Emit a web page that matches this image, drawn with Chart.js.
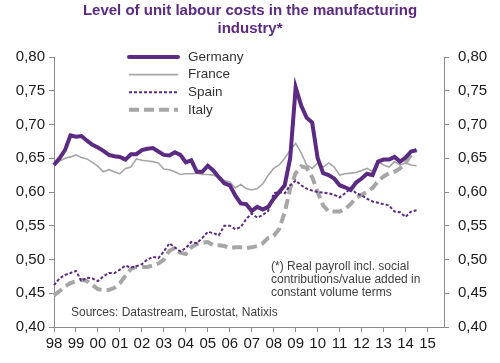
<!DOCTYPE html>
<html>
<head>
<meta charset="utf-8">
<script src="https://cdn.jsdelivr.net/npm/chart.js@4/dist/chart.umd.min.js"></script>
<style>
  html, body { margin: 0; padding: 0; background: #fff; }
</style>
</head>
<body>
<canvas id="myChart" width="500" height="363"></canvas>
<script>
// quarterly data, 1998Q1 .. 2014Q3
const germany = [
  0.640, 0.650, 0.662, 0.684, 0.682, 0.683, 0.676, 0.670,
  0.666, 0.661, 0.655, 0.653, 0.652, 0.648, 0.656, 0.656,
  0.662, 0.664, 0.665, 0.660, 0.655, 0.654, 0.659, 0.655,
  0.644, 0.647, 0.630, 0.630, 0.639, 0.632, 0.622, 0.613,
  0.610, 0.595, 0.583, 0.582, 0.572, 0.578, 0.574, 0.578,
  0.590, 0.600, 0.610, 0.650, 0.755, 0.728, 0.710, 0.703,
  0.650, 0.628, 0.625, 0.620, 0.610, 0.607, 0.603, 0.614,
  0.620, 0.627, 0.625, 0.645, 0.648, 0.648, 0.652, 0.645,
  0.651, 0.660, 0.662
];
const france = [
  0.643, 0.646, 0.650, 0.652, 0.655, 0.651, 0.649, 0.644,
  0.638, 0.630, 0.633, 0.630, 0.627, 0.635, 0.637, 0.649,
  0.647, 0.646, 0.645, 0.643, 0.634, 0.633, 0.630, 0.626,
  0.627, 0.627, 0.628, 0.626, 0.626, 0.625, 0.622, 0.617,
  0.615, 0.606, 0.611, 0.605, 0.603, 0.605, 0.612, 0.625,
  0.635, 0.640, 0.650, 0.662, 0.672, 0.658, 0.640, 0.635,
  0.643, 0.637, 0.643, 0.637, 0.625, 0.627, 0.628, 0.629,
  0.632, 0.635, 0.630, 0.645, 0.640, 0.637, 0.645, 0.640,
  0.643, 0.640, 0.639
];
const spain = [
  0.462, 0.472, 0.477, 0.480, 0.483, 0.468, 0.473, 0.472,
  0.468, 0.475, 0.480, 0.480, 0.485, 0.491, 0.488, 0.490,
  0.493, 0.500, 0.504, 0.502, 0.512, 0.524, 0.518, 0.512,
  0.517, 0.526, 0.524, 0.532, 0.541, 0.539, 0.536, 0.550,
  0.550, 0.545, 0.548, 0.560, 0.568, 0.562, 0.566, 0.572,
  0.598, 0.600, 0.598, 0.610, 0.617, 0.610, 0.605, 0.602,
  0.600, 0.599, 0.598, 0.596, 0.592, 0.598, 0.606, 0.598,
  0.595, 0.590, 0.586, 0.584, 0.582, 0.580, 0.571, 0.570,
  0.563, 0.571, 0.573
];
const italy = [
  0.447, 0.453, 0.460, 0.465, 0.468, 0.470, 0.468, 0.462,
  0.456, 0.455, 0.455, 0.458, 0.465, 0.476, 0.486, 0.489,
  0.489, 0.489, 0.491, 0.494, 0.500, 0.513, 0.517, 0.510,
  0.508, 0.518, 0.523, 0.525, 0.526, 0.521, 0.521, 0.520,
  0.517, 0.518, 0.518, 0.517, 0.518, 0.520, 0.524, 0.532,
  0.535, 0.545, 0.570, 0.605, 0.628, 0.638, 0.636, 0.622,
  0.600, 0.580, 0.571, 0.571, 0.571, 0.575, 0.582, 0.591,
  0.596, 0.600, 0.606, 0.616, 0.623, 0.628, 0.630, 0.635,
  0.643, 0.655, 0.663
];
const series_names = ["Germany", "France", "Spain", "Italy"];
const first_year = 1998;
const last_year = 2015;
const title_lines = ["Level of unit labour costs in the manufacturing", "industry*"];
const note_lines = ["(*) Real payroll incl. social", "contributions/value added in", "constant volume terms"];
const source_text = "Sources: Datastream, Eurostat, Natixis";

// one category per quarter, axis runs to the end of 2015
const quarters = [];
for (let y = first_year; y <= last_year; y++) {
  for (let q = 1; q <= 4; q++) quarters.push(y + "Q" + q);
}

const purple = "#5b2a82";
const grey = "#a6a6a6";
const axis_color = "#8a8a8a";
const font_family = "'Liberation Sans', Arial, sans-serif";

const fmt = (v) => v.toFixed(2).replace(".", ",");

const inner_legend = {
  id: "inner_legend",
  afterDraw(chart) {
    const ctx = chart.ctx;
    ctx.save();
    chart.data.datasets.forEach((ds, i) => {
      const y = 57 + i * 17.6;
      ctx.beginPath();
      ctx.strokeStyle = ds.borderColor;
      ctx.lineWidth = ds.borderWidth;
      ctx.lineCap = i == 0 ? "round" : "butt";
      ctx.setLineDash(ds.borderDash || []);
      ctx.moveTo(129, y);
      ctx.lineTo(178, y);
      ctx.stroke();
      ctx.setLineDash([]);
      ctx.fillStyle = "#333";
      ctx.font = "13.5px " + font_family;
      ctx.textBaseline = "middle";
      ctx.textAlign = "left";
      ctx.fillText(ds.label, 188, y);
    });
    ctx.fillStyle = "#404040";
    ctx.font = "12px " + font_family;
    note_lines.forEach((t, i) => ctx.fillText(t, 271, 267 + i * 12.6));
    ctx.fillText(source_text, 71, 313);
    ctx.restore();
  },
};

const ctx = document.getElementById("myChart").getContext("2d");
const myChart = new Chart(ctx, {
  type: "line",
  data: {
    labels: quarters,
    datasets: [
      {
        label: series_names[0],
        data: germany,
        borderColor: purple,
        borderWidth: 4,
      },
      {
        label: series_names[1],
        data: france,
        borderColor: grey,
        borderWidth: 1.6,
      },
      {
        label: series_names[2],
        data: spain,
        borderColor: purple,
        borderWidth: 2,
        borderDash: [3, 2],
      },
      {
        label: series_names[3],
        data: italy,
        borderColor: grey,
        borderWidth: 4,
        borderDash: [10, 5],
      },
    ],
  },
  options: {
    responsive: false,
    animation: false,
    maintainAspectRatio: false,
    layout: { padding: 0 },
    elements: {
      point: { radius: 0 },
      line: { tension: 0, fill: false },
    },
    plugins: {
      legend: { display: false },
      tooltip: { enabled: false },
      title: {
        display: true,
        text: title_lines,
        color: purple,
        font: { family: font_family, size: 15, weight: "bold", lineHeight: 1.2 },
        padding: { top: 2, bottom: 19 },
      },
    },
    scales: {
      x: {
        offset: false,
        afterBuildTicks: (scale) => {
          scale.ticks = scale.ticks.filter((t) => t.value % 4 == 0);
        },
        afterFit: (scale) => { scale.height = 36; },
        border: { color: axis_color, width: 1 },
        grid: { drawOnChartArea: false, drawTicks: true, tickLength: 5, color: axis_color },
        ticks: {
          autoSkip: false,
          maxRotation: 0,
          padding: 3,
          color: "#1a1a1a",
          font: { family: font_family, size: 15 },
          callback: function (value) {
            return this.getLabelForValue(value).slice(2, 4);
          },
        },
      },
      y: {
        position: "left",
        min: 0.4,
        max: 0.8,
        afterFit: (scale) => { scale.width = 54; },
        border: { color: axis_color, width: 1 },
        grid: { drawOnChartArea: false, drawTicks: true, tickLength: 5, color: axis_color },
        ticks: {
          stepSize: 0.05,
          padding: 4,
          color: "#1a1a1a",
          font: { family: font_family, size: 15 },
          callback: fmt,
        },
      },
      y2: {
        position: "right",
        min: 0.4,
        max: 0.8,
        afterFit: (scale) => { scale.width = 56; },
        border: { color: axis_color, width: 1 },
        grid: { drawOnChartArea: false, drawTicks: true, tickLength: 5, color: axis_color },
        ticks: {
          stepSize: 0.05,
          padding: 9,
          color: "#1a1a1a",
          font: { family: font_family, size: 15 },
          callback: fmt,
        },
      },
    },
  },
  plugins: [inner_legend],
});
</script>
</body>
</html>
